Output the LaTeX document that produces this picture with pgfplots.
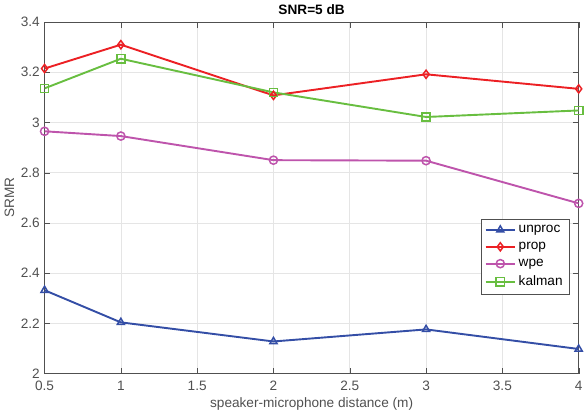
\documentclass[border=0pt]{standalone}
\usepackage{pgfplots}
\pgfplotsset{compat=1.18}
\usepackage{fontspec}
\setmainfont{Liberation Sans}
\definecolor{cunproc}{RGB}{52,78,166}
\definecolor{cprop}{RGB}{236,32,36}
\definecolor{cwpe}{RGB}{190,84,172}
\definecolor{ckalman}{RGB}{104,190,64}
\definecolor{axgray}{RGB}{80,80,80}
\begin{document}
\begin{tikzpicture}
\begin{axis}[
    scale only axis,
    width=392pt, height=258pt,
    xmin=0.5, xmax=4, ymin=2, ymax=3.4,
    xtick={0.5,1,...,4}, ytick={2,2.2,...,3.4},
    yticklabels={2,2.2,2.4,2.6,2.8,3,3.2,3.4},
    xticklabels={0.5,1,1.5,2,2.5,3,3.5,4},
    grid=major, grid style={gray!20},
    axis line style={axgray},
    tick style={axgray},
    tick label style={font=\normalsize, text=axgray},
    xticklabel style={yshift=-2pt},
    label style={font=\normalsize, text=axgray},
    title style={font=\normalsize\bfseries, yshift=-4pt},
    title={SNR=5 dB},
    xlabel={speaker-microphone distance (m)},
    ylabel={SRMR},
    xlabel style={yshift=2pt},
    ylabel style={yshift=-2pt},
    legend style={at={(0.982,0.226)}, anchor=south east, font=\normalsize, draw=axgray, cells={anchor=west}, row sep=1.5pt, inner sep=2.5pt},
    legend image code/.code={\draw[line width=1.4pt, mark repeat=2,mark phase=2] plot coordinates {(0cm,0cm) (0.38cm,0cm) (0.76cm,0cm)};},
    legend cell align=left,
    every axis plot/.append style={line width=1.4pt, mark size=3pt, mark options={solid, line width=1.1pt, fill=none}},
]
\addplot[cunproc, mark=triangle] coordinates {(0.5,2.332) (1,2.204) (2,2.128) (3,2.176) (4,2.098)};
\addlegendentry{unproc}
\addplot[cprop, mark=diamond] coordinates {(0.5,3.215) (1,3.31) (2,3.108) (3,3.192) (4,3.134)};
\addlegendentry{prop}
\addplot[cwpe, mark=o] coordinates {(0.5,2.965) (1,2.946) (2,2.85) (3,2.848) (4,2.678)};
\addlegendentry{wpe}
\addplot[ckalman, mark=square] coordinates {(0.5,3.136) (1,3.254) (2,3.12) (3,3.022) (4,3.048)};
\addlegendentry{kalman}
\end{axis}
\end{tikzpicture}
\end{document}
